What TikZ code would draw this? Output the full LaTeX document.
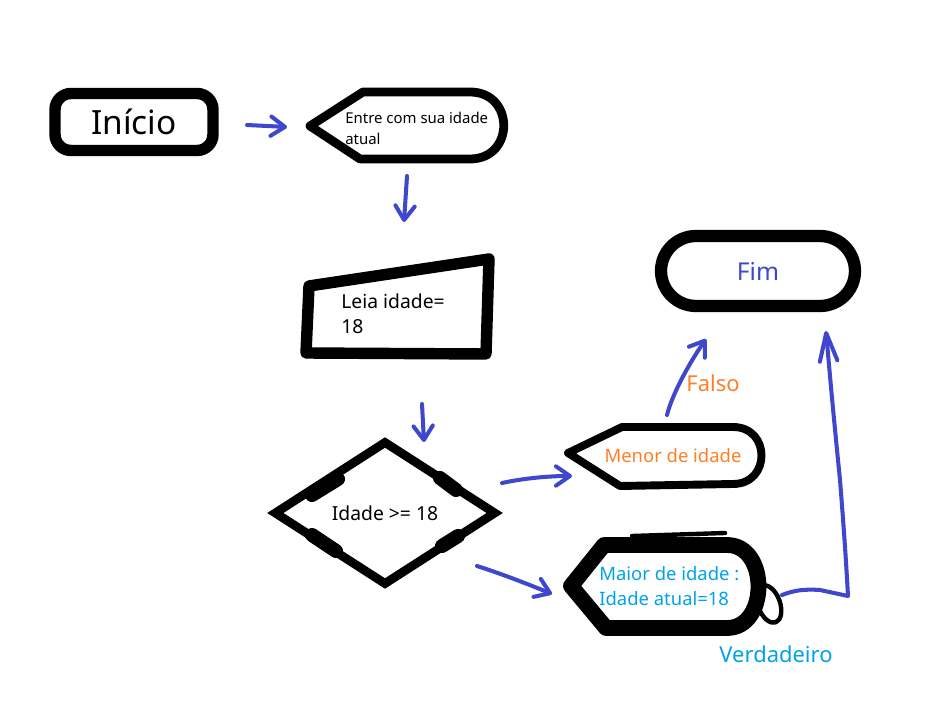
\documentclass[tikz,border=0pt]{standalone}
\usepackage{fontspec}
\setmainfont{Noto Sans}
\usetikzlibrary{shapes.geometric, arrows.meta}
\definecolor{anil}{RGB}{63,72,204}
\definecolor{laranja}{RGB}{255,127,39}
\definecolor{celeste}{RGB}{0,162,232}
\tikzset{
	x=0.02cm, y=-0.02cm, % uma unidade = um pixel da imagem
	>={Straight Barb[round, length=8pt, width=11pt]}, % pontas feitas a mao
	seta/.style={->, draw=anil, line width=2.3pt, line cap=round, line join=round}, % conectores
	terminal/.style={draw, line width=6.5pt}, % inicio e fim
	contorno/.style={draw, line width=5pt, line join=round, line cap=round}, % formas desenhadas
	texto/.style={anchor=west, align=left, inner sep=0pt}, % textos das formas
	rotulo/.style={inner sep=0pt, font=\fontsize{12.5}{15}\selectfont} % Falso / Verdadeiro
}

\begin{document}
\begin{tikzpicture}
	\useasboundingbox (0,0) rectangle (947,722);
	% terminais
	\node[terminal, rounded corners=0.32cm, minimum width=3.16cm, minimum height=1.14cm,
		font=\fontsize{19}{23}\selectfont] (inicio) at (134,122) {Início};
	\node[terminal, line width=7pt, rounded corners=0.7cm, minimum width=3.88cm, minimum height=1.4cm,
		text=anil, font=\fontsize{14}{17}\selectfont] (fim) at (758,271) {Fim};
	% entrada
	\draw[contorno] (310,126) -- (363,92) -- (470,92) .. controls (515,92) and (515,159) .. (470,159) -- (360,159) -- cycle;
	\node[texto, font=\fontsize{8.5}{12}\selectfont] (entrada) at (345,128) {Entre com sua idade\\atual};
	% leitura
	\draw[contorno, line width=6.5pt] (309,286) -- (489,259) -- (486,354) -- (306,353) -- cycle;
	\node[texto, font=\fontsize{11}{14}\selectfont] (leia) at (341,314) {Leia idade=\\18};
	% decisao
	\node[diamond, draw, line width=5pt, minimum width=4.46cm, minimum height=2.82cm,
		font=\fontsize{11}{13}\selectfont] (decisao) at (385,513) {Idade >= 18};
	\foreach \ax/\ay/\bx/\by in {312/495/338/479, 440/478/456/490, 312/535/336/551, 442/546/458/536}
		\draw[contorno, line width=8pt] (\ax,\ay) -- (\bx,\by);
	% saidas
	\draw[contorno, line width=4.5pt] (568,453) -- (622,427) -- (733,427) .. controls (771,427) and (771,484) .. (733,484) -- (620,486) -- cycle;
	\node[text=laranja, font=\fontsize{10.5}{13}\selectfont, inner sep=0pt] (menor) at (673,456) {Menor de idade};
	\draw[contorno, line width=9pt] (571,586) -- (604,545) -- (727,545) .. controls (769,545) and (769,628) .. (727,628) -- (606,628) -- cycle;
	\draw[contorno, line width=2.5pt] (576,584) -- (611,541) -- (700,539);
	\draw[contorno, line width=2.5pt] (632,536) -- (725,533);
	\draw[contorno, line width=2.5pt] (769,604) circle[x radius=0.22cm, y radius=0.39cm, rotate=20];
	\node[texto, text=celeste, font=\fontsize{10.5}{14.5}\selectfont] (maior) at (599,586) {Maior de idade :\\Idade atual=18};
	% conectores
	\coordinate (c1) at (247,125); \coordinate (c2) at (287,127);
	\coordinate (c3) at (407,176); \coordinate (c4) at (404,222);
	\coordinate (c5) at (422,404); \coordinate (c6) at (424,442);
	\coordinate (c7) at (502,483); \coordinate (c8) at (572,476);
	\coordinate (c9) at (477,566); \coordinate (c10) at (552,594);
	\coordinate (c11) at (667,415); \coordinate (c12) at (706,339);
	\coordinate (c13) at (782,595); \coordinate (c14) at (826,331);
	\draw[seta] (c1) -- (c2);
	\draw[seta] (c3) -- (c4);
	\draw[seta] (c5) -- (c6);
	\draw[seta] (c7) .. controls (525,478) and (550,476) .. (c8);
	\draw[seta] (c9) .. controls (505,575) and (530,585) .. (c10);
	\draw[seta] (c11) .. controls (672,395) and (688,365) .. (c12);
	\draw[seta, >={Straight Barb[round, length=16pt, width=10pt]}] (c13) .. controls (795,590) and (805,589) .. (820,590)
		-- (848,596) .. controls (846,560) and (844,530) .. (840,480) .. controls (836,440) and (832,400) .. (c14);
	% rotulos
	\node[rotulo, text=laranja] (falso) at (713,383) {Falso};
	\node[rotulo, text=celeste] (verdadeiro) at (776,654) {Verdadeiro};
\end{tikzpicture}
\end{document}
